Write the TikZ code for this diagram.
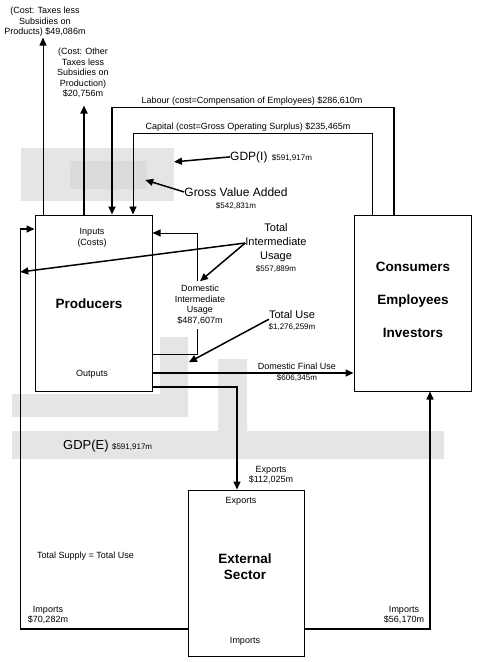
\documentclass[tikz,border=0pt]{standalone}
\usepackage{fontspec}
\setmainfont{Liberation Sans}
\usetikzlibrary{arrows.meta,backgrounds,positioning}

\tikzset{
  sector/.style={draw,line width=1pt,inner sep=0pt,minimum width=117pt,minimum height=176pt},
  lbl/.style={inner sep=0pt,align=center,font=\fontsize{9}{10.5}\selectfont},
  val/.style={inner sep=0pt,font=\fontsize{8}{9.5}\selectfont},
  mid/.style={inner sep=0pt,align=center,font=\fontsize{11}{14}\selectfont},
  big/.style={inner sep=0pt,font=\fontsize{12}{14}\selectfont},
  title/.style={inner sep=0pt,align=center,font=\fontsize{13.5}{16}\selectfont\bfseries},
  flow/.style={line width=1.5pt,-{Triangle[length=8pt,width=7pt]}},
  thinflow/.style={line width=0.9pt,-{Triangle[length=8pt,width=7pt]}},
  band/.style={fill=black!10,draw=none},
}

\begin{document}
\begin{tikzpicture}[x=1pt,y=-1pt]
  \useasboundingbox (0,0) rectangle (479,662);

  % grey bands
  \fill[band] (21,148) rectangle (174,201);
  \fill[black!14] (70,161) rectangle (147,189);
  \fill[band] (160,337) -- (188,337) -- (188,417) -- (12,417) -- (12,394) -- (160,394) -- cycle;
  \fill[band] (218,359) -- (247,359) -- (247,431) -- (444,431) -- (444,459) -- (12,459) -- (12,431) -- (218,431) -- cycle;

  % sectors
  \node[sector] (producers) at (93.5,303) {};
  \node[sector] (consumers) at (412.5,303) {};
  \node[sector,minimum width=116pt,minimum height=166pt] (external) at (246,573) {};

  \node[lbl]   (inputs)    at (92,238)   {Inputs\\(Costs)};
  \node[title] (prodName)  at (89,304)   {Producers};
  \node[lbl]   (outputs)   at (92,374)   {Outputs};
  \node[title,font=\fontsize{13.5}{33}\selectfont\bfseries] (consName) at (413,300) {Consumers\\Employees\\Investors};
  \node[lbl]   (extExp)    at (241,501)  {Exports};
  \node[title] (extName)   at (245,567)  {External\\Sector};
  \node[lbl]   (extImp)    at (245,641)  {Imports};

  % costs leaving the producers
  \draw[thinflow] ([xshift=-50.5pt]producers.north) -- ++(0,-177);
  \draw[flow,line width=2pt] ([xshift=-9.5pt]producers.north) -- ++(0,-109);
  \node[lbl] (taxProd)  at (45,22) {(Cost: Taxes less\\Subsidies on\\Products) \$49,086m};
  \node[lbl] (taxOther) at (83,73) {(Cost: Other\\Taxes less\\Subsidies on\\Production)\\\$20,756m};

  % factor payments
  \draw[flow,line width=1.8pt] ([xshift=-18.5pt]consumers.north) -- ++(0,-107) -| ([xshift=18.5pt]producers.north);
  \draw[thinflow] ([xshift=-40.5pt]consumers.north) -- ++(0,-81) -| ([xshift=39.5pt]producers.north);
  \node[lbl] (labour)  at (252,101) {Labour (cost=Compensation of Employees) \$286,610m};
  \node[lbl] (capital) at (248,127) {Capital (cost=Gross Operating Surplus) \$235,465m};

  % income side
  \node[big] (gdpi) [anchor=base west] at (230,160) {GDP(I)};
  \node[val] (gdpiVal) [base right=4pt of gdpi] {\$591,917m};
  \node[big] (gva) at (236,192) {Gross Value Added};
  \node[val] (gvaVal) [below=6pt of gva] {\$542,831m};
  \draw[flow] (gdpi.west) -- ++(-56,5);
  \draw[flow] (gva.west) -- ++(-39,-12);

  % intermediate usage
  \draw[thinflow] ([yshift=-51pt]producers.east) -| ++(45,-121) -- ([yshift=70pt]producers.east);
  \node[lbl,fill=white,inner sep=4pt] (domInt) at (200,305) {Domestic\\Intermediate\\Usage\\\$487,607m};
  \node[mid] (tiu) at (276,243) {Total\\Intermediate\\Usage};
  \node[val] (tiuVal) [below=3pt of tiu] {\$557,889m};
  \draw[flow] (tiu.west) -- ++(-225,29);
  \draw[flow] (tiu.west) -- (domInt.north);

  % total use
  \node[mid] (totUse) at (292,315) {Total Use};
  \node[val] (totUseVal) [below=4pt of totUse] {\$1,276,259m};
  \draw[flow] (totUse.south west) -- ++(-80,43);

  % final use and exports
  \draw[flow] ([yshift=-70pt]producers.east) -- ([yshift=-70pt]consumers.west);
  \node[lbl] (dfu) at (297,366) {Domestic Final Use};
  \node[val] (dfuVal) at (297,378) {\$606,345m};
  \draw[flow] ([yshift=-84pt]producers.east) -| ([xshift=-9pt]external.north);
  \node[lbl] (exports) at (271,475) {Exports\\\$112,025m};

  % imports
  \draw[flow] ([yshift=-56pt]external.west) -| ++(-167,-400) -- ([yshift=74pt]producers.west);
  \draw[flow] ([yshift=-56pt]external.east) -| ([xshift=17.5pt]consumers.south);
  \node[lbl] (impLeft)  at (48,615) {Imports\\\$70,282m};
  \node[lbl] (impRight) at (404,615) {Imports\\\$56,170m};

  % expenditure side
  \node[big,font=\fontsize{13}{15}\selectfont] (gdpe) [anchor=base west] at (63,449) {GDP(E)};
  \node[val] (gdpeVal) [base right=3pt of gdpe] {\$591,917m};
  \node[lbl] (supply) [anchor=west] at (37,556) {Total Supply = Total Use};
\end{tikzpicture}
\end{document}
